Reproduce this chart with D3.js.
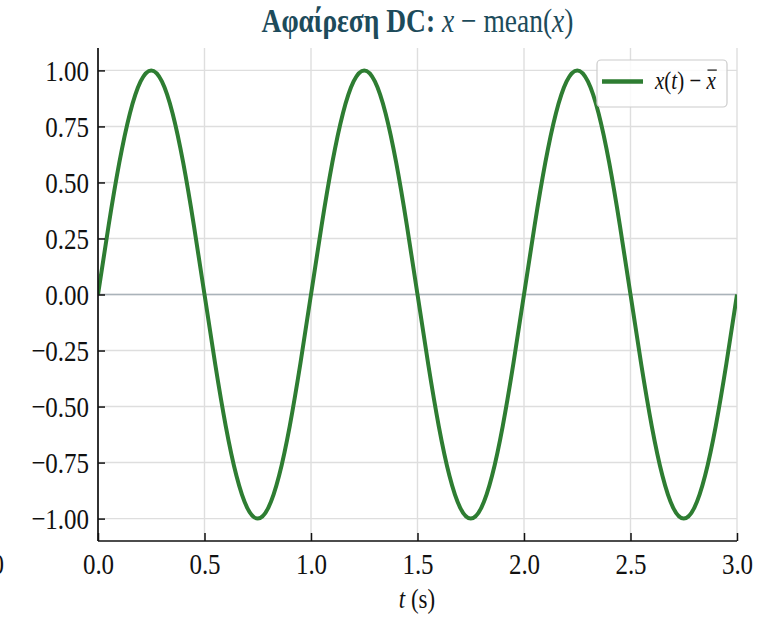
<!DOCTYPE html>
<html>
<head>
<meta charset="utf-8">
<script src="https://cdn.jsdelivr.net/npm/d3@7"></script>
<style>
  html, body { margin: 0; padding: 0; background: #ffffff; }
  svg { display: block; }
  text { font-family: "Liberation Serif", "DejaVu Serif", serif; fill: #111; }
</style>
</head>
<body>
<svg id="chart" width="779" height="618"></svg>
<script>
// Time samples (s) and the DC-removed signal x(t) - mean(x)
const tValues = [
  0.00, 0.05, 0.10, 0.15, 0.20, 0.25, 0.30, 0.35, 0.40, 0.45,
  0.50, 0.55, 0.60, 0.65, 0.70, 0.75, 0.80, 0.85, 0.90, 0.95,
  1.00, 1.05, 1.10, 1.15, 1.20, 1.25, 1.30, 1.35, 1.40, 1.45,
  1.50, 1.55, 1.60, 1.65, 1.70, 1.75, 1.80, 1.85, 1.90, 1.95,
  2.00, 2.05, 2.10, 2.15, 2.20, 2.25, 2.30, 2.35, 2.40, 2.45,
  2.50, 2.55, 2.60, 2.65, 2.70, 2.75, 2.80, 2.85, 2.90, 2.95,
  3.00
];
const xCentered = [
  0.000, 0.309, 0.588, 0.809, 0.951, 1.000, 0.951, 0.809, 0.588, 0.309,
  0.000, -0.309, -0.588, -0.809, -0.951, -1.000, -0.951, -0.809, -0.588, -0.309,
  0.000, 0.309, 0.588, 0.809, 0.951, 1.000, 0.951, 0.809, 0.588, 0.309,
  0.000, -0.309, -0.588, -0.809, -0.951, -1.000, -0.951, -0.809, -0.588, -0.309,
  0.000, 0.309, 0.588, 0.809, 0.951, 1.000, 0.951, 0.809, 0.588, 0.309,
  0.000, -0.309, -0.588, -0.809, -0.951, -1.000, -0.951, -0.809, -0.588, -0.309,
  0.000
];
const xTicks = [0.0, 0.5, 1.0, 1.5, 2.0, 2.5, 3.0];
const yTicks = [-1.00, -0.75, -0.50, -0.25, 0.00, 0.25, 0.50, 0.75, 1.00];

const W = 779, H = 618;
const plot = { left: 98, right: 737, top: 48, bottom: 541 };
const stretch = 1.22;           // tall, narrow lettering
const lineColor = "#2e7d32";
const titleColor = "#1d4b5b";

const svg = d3.select("#chart");

const x = d3.scaleLinear().domain([0, 3]).range([plot.left, plot.right]);
const y = d3.scaleLinear().domain([-1.1, 1.1]).range([plot.bottom, plot.top]);

// grid
const grid = svg.append("g").attr("class", "grid");
grid.selectAll("line.v").data(xTicks).join("line")
  .attr("x1", d => x(d)).attr("x2", d => x(d))
  .attr("y1", plot.top).attr("y2", plot.bottom)
  .attr("stroke", "#dedede").attr("stroke-width", 1.4);
grid.selectAll("line.h").data(yTicks).join("line")
  .attr("x1", plot.left).attr("x2", plot.right)
  .attr("y1", d => y(d)).attr("y2", d => y(d))
  .attr("stroke", "#dedede").attr("stroke-width", 1.4);

// zero reference
svg.append("line")
  .attr("x1", plot.left).attr("x2", plot.right)
  .attr("y1", y(0)).attr("y2", y(0))
  .attr("stroke", "#aab3ba").attr("stroke-width", 1.6);

// signal
svg.append("clipPath").attr("id", "plotClip").append("rect")
  .attr("x", plot.left).attr("y", plot.top - 10)
  .attr("width", plot.right - plot.left).attr("height", plot.bottom - plot.top + 20);

const line = d3.line()
  .x((d, i) => x(tValues[i]))
  .y(d => y(d))
  .curve(d3.curveNatural);

svg.append("path")
  .datum(xCentered)
  .attr("clip-path", "url(#plotClip)")
  .attr("d", line)
  .attr("fill", "none")
  .attr("stroke", lineColor)
  .attr("stroke-width", 4)
  .attr("stroke-linejoin", "round");

// axes
const yAxis = svg.append("g")
  .attr("transform", `translate(${plot.left},0)`)
  .call(d3.axisLeft(y).tickValues(yTicks).tickSizeInner(-7).tickSizeOuter(0)
    .tickFormat(d => d3.format(".2f")(d).replace("-", "\u2212")));
yAxis.select(".domain").attr("stroke", "#111").attr("stroke-width", 1.7)
  .attr("d", `M0,${plot.top}V${plot.bottom}`);
yAxis.selectAll(".tick line").attr("stroke", "#111").attr("stroke-width", 1.5);
yAxis.selectAll(".tick text")
  .attr("x", null).attr("y", null).attr("dy", "0.34em")
  .attr("transform", `translate(-9,0) scale(1,${stretch})`)
  .attr("text-anchor", "end")
  .style("font-family", "'Liberation Serif', serif")
  .style("font-size", "25px").attr("fill", "#111");

const xAxis = svg.append("g")
  .attr("transform", `translate(0,${plot.bottom})`)
  .call(d3.axisBottom(x).tickValues(xTicks).tickSizeInner(-8).tickSizeOuter(0)
    .tickFormat(d3.format(".1f")));
xAxis.select(".domain").attr("stroke", "#111").attr("stroke-width", 1.7)
  .attr("d", `M${plot.left},0H${plot.right}`);
xAxis.selectAll(".tick line").attr("stroke", "#111").attr("stroke-width", 1.5);
xAxis.selectAll(".tick text")
  .attr("x", null).attr("y", null).attr("dy", "0.68em")
  .attr("transform", `translate(0,12) scale(1,${stretch})`)
  .attr("text-anchor", "middle")
  .style("font-family", "'Liberation Serif', serif")
  .style("font-size", "25px").attr("fill", "#111");

// neighbouring panel's last tick label, cut by the figure edge
svg.append("text")
  .attr("transform", `translate(4,${plot.bottom + 12}) scale(1,${stretch})`)
  .attr("dy", "0.68em").attr("text-anchor", "end")
  .style("font-size", "25px").text("3.0");

// x-axis label
const xl = svg.append("text")
  .attr("transform", `translate(417,608) scale(1,${stretch})`)
  .attr("text-anchor", "middle")
  .style("font-size", "23px");
xl.append("tspan").style("font-style", "italic").text("t");
xl.append("tspan").text(" (s)");

// title
const title = svg.append("text")
  .attr("transform", `translate(417.5,32) scale(1,${stretch})`)
  .attr("text-anchor", "middle")
  .style("font-size", "27.5px")
  .attr("fill", titleColor);
title.append("tspan").style("font-weight", "bold").attr("fill", titleColor).text("Αφαίρεση DC: ");
title.append("tspan").style("font-style", "italic").attr("fill", titleColor).text("x");
title.append("tspan").attr("fill", titleColor).text(" \u2212 mean(");
title.append("tspan").style("font-style", "italic").attr("fill", titleColor).text("x");
title.append("tspan").attr("fill", titleColor).text(")");

// legend
const lg = svg.append("g");
lg.append("rect")
  .attr("x", 597).attr("y", 60).attr("width", 130).attr("height", 47)
  .attr("rx", 4).attr("ry", 4)
  .attr("fill", "rgba(255,255,255,0.85)")
  .attr("stroke", "#cccccc").attr("stroke-width", 1.2);
lg.append("line")
  .attr("x1", 602).attr("x2", 643).attr("y1", 81.5).attr("y2", 81.5)
  .attr("stroke", lineColor).attr("stroke-width", 4.5);
const lt = lg.append("text")
  .attr("transform", `translate(655,89) scale(1,${stretch})`)
  .style("font-size", "21px");
lt.append("tspan").style("font-style", "italic").text("x");
lt.append("tspan").text("(");
lt.append("tspan").style("font-style", "italic").text("t");
lt.append("tspan").text(") \u2212 ");
lt.append("tspan").style("font-style", "italic").text("x");
// bar over the mean symbol
const n = lt.text().length;
const ext = lt.node().getExtentOfChar(n - 1);
lg.append("line")
  .attr("transform", `translate(655,89) scale(1,${stretch})`)
  .attr("x1", ext.x + 1).attr("x2", ext.x + ext.width + 1)
  .attr("y1", -15.5).attr("y2", -15.5)
  .attr("stroke", "#111").attr("stroke-width", 1);
</script>
</body>
</html>
